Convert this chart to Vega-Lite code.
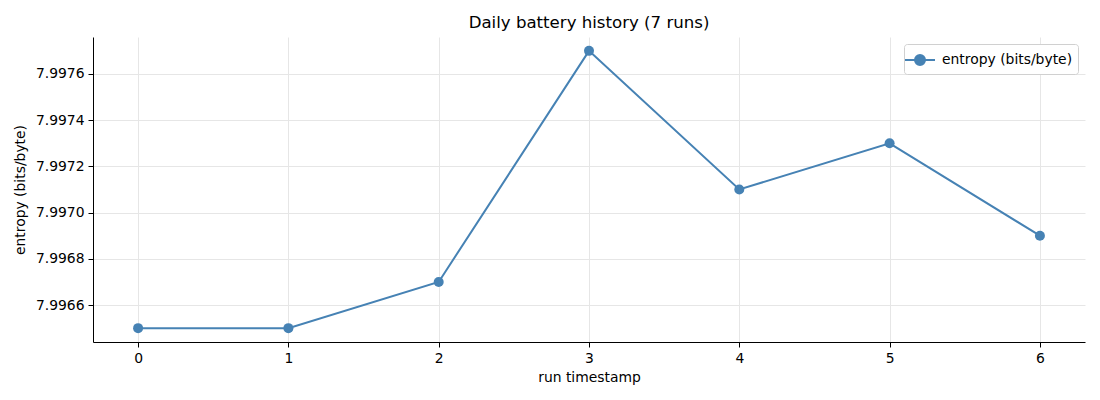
{
  "$schema": "https://vega.github.io/schema/vega-lite/v6.json",
  "width": 992,
  "height": 305,
  "autosize": {"type": "none"},
  "padding": {"left": 93, "top": 37, "right": 15, "bottom": 58},
  "background": "white",
  "config": {
    "font": "DejaVu Sans",
    "view": {"stroke": null},
    "axis": {
      "labelFont": "DejaVu Sans",
      "titleFont": "DejaVu Sans",
      "labelFontSize": 13.9,
      "titleFontSize": 13.9,
      "titleFontWeight": "normal",
      "labelColor": "black",
      "titleColor": "black",
      "domainColor": "black",
      "tickColor": "black",
      "tickSize": 5,
      "labelPadding": 4,
      "gridColor": "#e6e6e6",
      "gridWidth": 1
    }
  },
  "title": {
    "text": "Daily battery history (7 runs)",
    "fontSize": 16.6,
    "fontWeight": "normal",
    "font": "DejaVu Sans",
    "color": "black",
    "offset": 5
  },
  "data": {
    "values": [
      {"run": 0, "entropy": 7.9965, "series": "entropy (bits/byte)"},
      {"run": 1, "entropy": 7.9965, "series": "entropy (bits/byte)"},
      {"run": 2, "entropy": 7.9967, "series": "entropy (bits/byte)"},
      {"run": 3, "entropy": 7.9977, "series": "entropy (bits/byte)"},
      {"run": 4, "entropy": 7.9971, "series": "entropy (bits/byte)"},
      {"run": 5, "entropy": 7.9973, "series": "entropy (bits/byte)"},
      {"run": 6, "entropy": 7.9969, "series": "entropy (bits/byte)"}
    ]
  },
  "encoding": {
    "x": {
      "field": "run",
      "type": "quantitative",
      "title": "run timestamp",
      "scale": {"domain": [-0.3, 6.3], "nice": false, "zero": false},
      "axis": {"values": [0, 1, 2, 3, 4, 5, 6], "format": "d", "titlePadding": 6}
    },
    "y": {
      "field": "entropy",
      "type": "quantitative",
      "title": "entropy (bits/byte)",
      "scale": {"domain": [7.99644, 7.99776], "nice": false, "zero": false},
      "axis": {
        "values": [7.9966, 7.9968, 7.997, 7.9972, 7.9974, 7.9976],
        "format": ".4f",
        "titlePadding": 8
      }
    },
    "color": {
      "field": "series",
      "type": "nominal",
      "scale": {"range": ["#4682b4"]},
      "legend": {
        "title": null,
        "orient": "top-right",
        "offset": 7,
        "symbolType": "M-1.5,0L1.5,0M-0.5,0A0.5,0.5 0 1,0 0.5,0A0.5,0.5 0 1,0 -0.5,0Z",
        "symbolSize": 400,
        "symbolStrokeWidth": 2,
        "symbolFillColor": "#4682b4",
        "symbolStrokeColor": "#4682b4",
        "labelFontSize": 13.9,
        "labelFont": "DejaVu Sans",
        "labelColor": "black",
        "labelOffset": 11,
        "strokeColor": "#d0d0d0",
        "fillColor": "white",
        "cornerRadius": 3,
        "padding": 5
      }
    }
  },
  "layer": [
    {"mark": {"type": "line", "strokeWidth": 2}},
    {"mark": {"type": "point", "filled": true, "size": 100, "opacity": 1}}
  ]
}
